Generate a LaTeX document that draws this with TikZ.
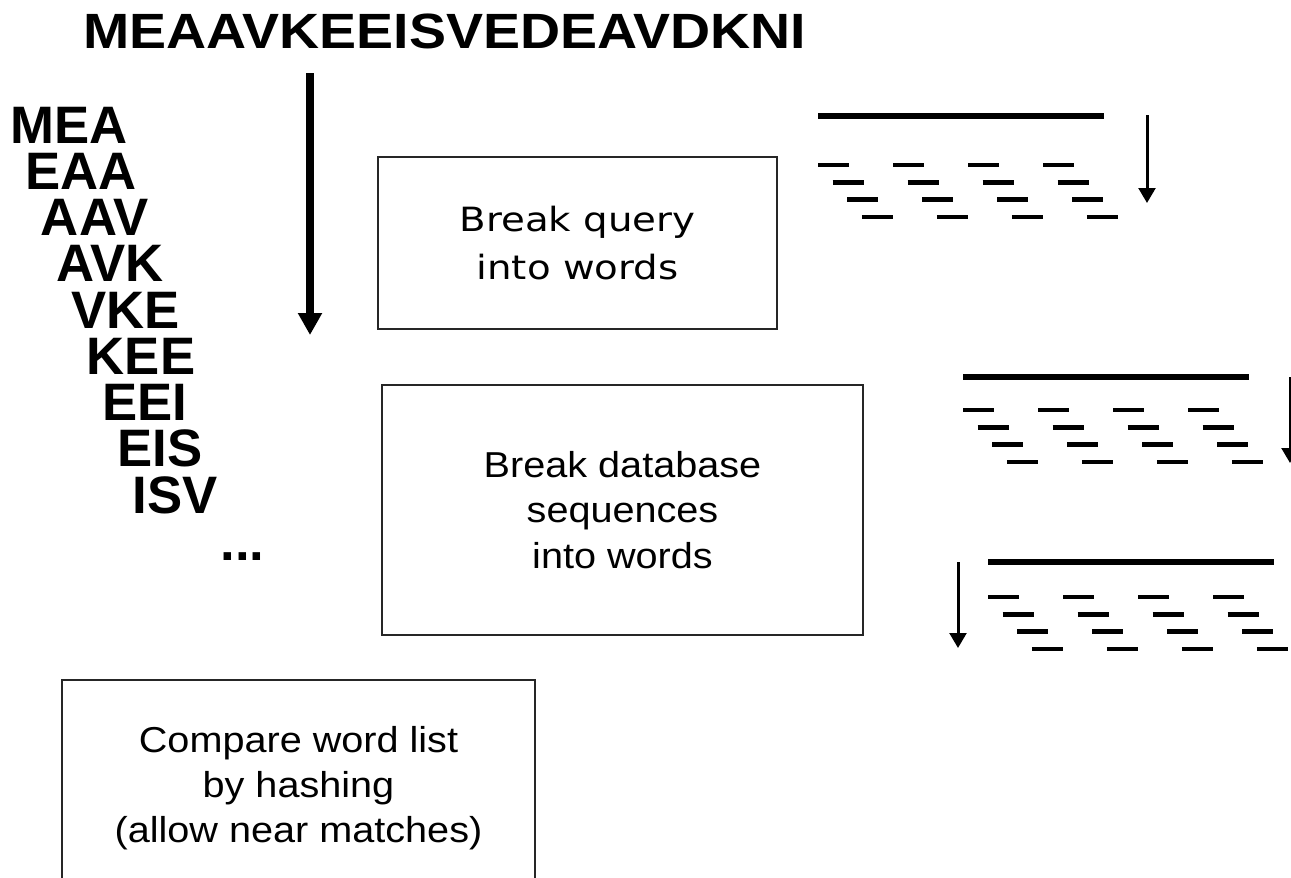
\documentclass[tikz,border=0pt]{standalone}
\usepackage{fontspec}
\setmainfont{Liberation Sans}
\newfontfamily\vfont{DejaVu Sans}[FakeStretch=1.16]
\newfontfamily\boxfont{Liberation Sans}[FakeStretch=1.1]
\newfontfamily\seqfont{Liberation Sans}[FakeStretch=1.12]
\usetikzlibrary{arrows.meta}

\begin{document}
\begin{tikzpicture}[x=0.02cm, y=-0.02cm,
    word/.style={inner sep=0pt, anchor=base west, text height=21.5pt, text depth=0pt, font=\fontsize{30}{30}\selectfont\bfseries},
    box/.style={draw=black!85, line width=1.1pt, align=center, inner sep=0pt},
    bar/.style={line width=3.7pt},
    dashseg/.style={line width=2.7pt},
    smallarrow/.style={line width=1.7pt, -{Triangle[width=9.5pt, length=8.5pt]}},
    bigarrow/.style={line width=4.8pt, -{Triangle[width=13pt, length=12.5pt]}}]
    \useasboundingbox (0,0) rectangle (1291,877);
    \clip (0,0) rectangle (1291,877);

    % Query sequence
    \node[word, text height=20pt, font=\seqfont\fontsize{28.2}{28.2}\selectfont\bfseries] (seq) at (83,48) {MEAAVKEEISVEDEAVDKNI};

    % Words of length three
    \foreach \w [count=\i from 0] in {MEA,EAA,AAV,AVK,VKE,KEE,EEI,EIS,ISV} {
        \node[word] (w\i) at ({10+15.3*\i},{143+46.25*\i}) {\w};
    }
    \node[word] (more) at (220,560) {...};

    % Arrow down the word list
    \coordinate (arrtop) at (310,73);
    \coordinate (arrbot) at (310,335);
    \draw[bigarrow] (arrtop) -- (arrbot);

    % Steps
    \node[box, minimum width=7.98cm, minimum height=3.44cm, font=\vfont\fontsize{19}{27.2}\selectfont] (query) at (577.5,243) {Break query\\into words};
    \node[box, minimum width=9.62cm, minimum height=5cm, font=\boxfont\fontsize{20.5}{26}\selectfont] (dbase) at (622.5,510) {Break database\\sequences\\into words};
    \node[box, minimum width=9.46cm, minimum height=4.32cm, font=\boxfont\fontsize{20.5}{25.5}\selectfont] (compare) at (298.5,788) {Compare word list\\by hashing\\(allow near matches)};

    % Sequences cut into overlapping words
    \foreach \gx/\gy/\gap in {818/116/49, 963/377/33, 988/562/35} {
        \draw[bar] (\gx,\gy) -- ++(286,0);
        \foreach \r in {0,...,3}
            \foreach \c in {0,...,3}
                \draw[dashseg] ({\gx+14.6*\r+75*\c},{\gy+\gap+17.3*\r}) -- ++(31,0);
    }

    % Small arrows
    \coordinate (a1s) at (1147,115);
    \coordinate (a1e) at (1147,203);
    \draw[smallarrow] (a1s) -- (a1e);
    \coordinate (a2s) at (1290,377);
    \coordinate (a2e) at (1290,463);
    \draw[smallarrow] (a2s) -- (a2e);
    \coordinate (a3s) at (958,562);
    \coordinate (a3e) at (958,648);
    \draw[smallarrow] (a3s) -- (a3e);
\end{tikzpicture}
\end{document}
